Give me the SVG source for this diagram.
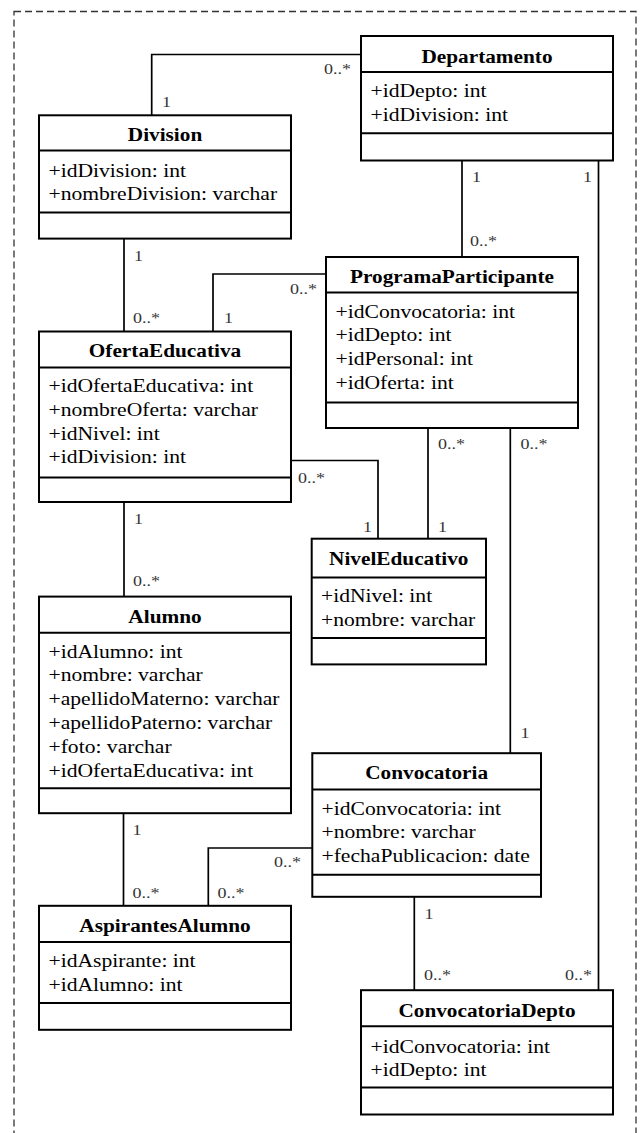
<svg xmlns="http://www.w3.org/2000/svg" width="644" height="1133" viewBox="0 0 644 1133">
<style>
.box{fill:#fff;stroke:#000;stroke-width:2}
.sep{stroke:#000;stroke-width:2}
.t{font-family:"Liberation Serif","Times New Roman",serif;font-size:19px;font-weight:bold;text-anchor:middle;fill:#000}
.a{font-family:"Liberation Serif","Times New Roman",serif;font-size:18px;fill:#000}
.c{fill:none;stroke:#000;stroke-width:1.7}
.m{font-family:"Liberation Serif","Times New Roman",serif;font-size:15px;fill:#333}
</style>
<rect x="14" y="11.5" width="622" height="1140" fill="none" stroke="#333" stroke-width="1.3" stroke-dasharray="7 4"/>
<g id="connectors">
<path class="c" d="M151.7,115.3 V54.5 H361"/>
<path class="c" d="M462,160.5 V257"/>
<path class="c" d="M598.5,160.5 V990"/>
<path class="c" d="M124,238.6 V331.5"/>
<path class="c" d="M213,331.5 V274 H326"/>
<path class="c" d="M291,460.5 H378 V538.7"/>
<path class="c" d="M428,428 V538.7"/>
<path class="c" d="M510.3,428 V753"/>
<path class="c" d="M124,502 V596.6"/>
<path class="c" d="M123.5,813 V906"/>
<path class="c" d="M312.3,848 H208.3 V906"/>
<path class="c" d="M414.3,897 V990"/>
<text class="m" transform="translate(162,107) scale(1.2,1)">1</text>
<text class="m" transform="translate(324,74) scale(1.2,1)">0..*</text>
<text class="m" transform="translate(472,182) scale(1.2,1)">1</text>
<text class="m" transform="translate(470,246) scale(1.2,1)">0..*</text>
<text class="m" transform="translate(583,182) scale(1.2,1)">1</text>
<text class="m" transform="translate(565,979.5) scale(1.2,1)">0..*</text>
<text class="m" transform="translate(134,261) scale(1.2,1)">1</text>
<text class="m" transform="translate(133,322.5) scale(1.2,1)">0..*</text>
<text class="m" transform="translate(224,322.5) scale(1.2,1)">1</text>
<text class="m" transform="translate(290,293.5) scale(1.2,1)">0..*</text>
<text class="m" transform="translate(298,483) scale(1.2,1)">0..*</text>
<text class="m" transform="translate(363,531.5) scale(1.2,1)">1</text>
<text class="m" transform="translate(438,448.5) scale(1.2,1)">0..*</text>
<text class="m" transform="translate(438,531.5) scale(1.2,1)">1</text>
<text class="m" transform="translate(520.5,448.5) scale(1.2,1)">0..*</text>
<text class="m" transform="translate(520.5,738) scale(1.2,1)">1</text>
<text class="m" transform="translate(134,524) scale(1.2,1)">1</text>
<text class="m" transform="translate(133,586) scale(1.2,1)">0..*</text>
<text class="m" transform="translate(132.5,834.5) scale(1.2,1)">1</text>
<text class="m" transform="translate(132.5,897.5) scale(1.2,1)">0..*</text>
<text class="m" transform="translate(274,867) scale(1.2,1)">0..*</text>
<text class="m" transform="translate(217.5,897.5) scale(1.2,1)">0..*</text>
<text class="m" transform="translate(424.5,919) scale(1.2,1)">1</text>
<text class="m" transform="translate(424,979.5) scale(1.2,1)">0..*</text>
</g>
<g id="Departamento">
<rect class="box" x="361" y="36" width="252" height="124.5"/>
<line class="sep" x1="361" y1="72" x2="613" y2="72"/>
<line class="sep" x1="361" y1="133.3" x2="613" y2="133.3"/>
<text class="t" transform="translate(487,63) scale(1.12,1)">Departamento</text>
<text class="a" transform="translate(370.5,97.3) scale(1.2,1)">+idDepto: int</text>
<text class="a" transform="translate(370.5,120.7) scale(1.2,1)">+idDivision: int</text>
</g>
<g id="Division">
<rect class="box" x="39" y="115.3" width="252" height="123.3"/>
<line class="sep" x1="39" y1="150.6" x2="291" y2="150.6"/>
<line class="sep" x1="39" y1="212.6" x2="291" y2="212.6"/>
<text class="t" transform="translate(165,140.5) scale(1.12,1)">Division</text>
<text class="a" transform="translate(48.5,176.6) scale(1.2,1)">+idDivision: int</text>
<text class="a" transform="translate(48.5,200) scale(1.2,1)">+nombreDivision: varchar</text>
</g>
<g id="ProgramaParticipante">
<rect class="box" x="326" y="257" width="252" height="171"/>
<line class="sep" x1="326" y1="292.6" x2="578" y2="292.6"/>
<line class="sep" x1="326" y1="402.5" x2="578" y2="402.5"/>
<text class="t" transform="translate(452,283) scale(1.12,1)">ProgramaParticipante</text>
<text class="a" transform="translate(335.5,317.5) scale(1.2,1)">+idConvocatoria: int</text>
<text class="a" transform="translate(335.5,341) scale(1.2,1)">+idDepto: int</text>
<text class="a" transform="translate(335.5,364.8) scale(1.2,1)">+idPersonal: int</text>
<text class="a" transform="translate(335.5,388.5) scale(1.2,1)">+idOferta: int</text>
</g>
<g id="OfertaEducativa">
<rect class="box" x="39" y="331.5" width="252" height="170.5"/>
<line class="sep" x1="39" y1="367.6" x2="291" y2="367.6"/>
<line class="sep" x1="39" y1="477.5" x2="291" y2="477.5"/>
<text class="t" transform="translate(165,356.8) scale(1.12,1)">OfertaEducativa</text>
<text class="a" transform="translate(48.5,392) scale(1.2,1)">+idOfertaEducativa: int</text>
<text class="a" transform="translate(48.5,415.5) scale(1.2,1)">+nombreOferta: varchar</text>
<text class="a" transform="translate(48.5,439.6) scale(1.2,1)">+idNivel: int</text>
<text class="a" transform="translate(48.5,463) scale(1.2,1)">+idDivision: int</text>
</g>
<g id="NivelEducativo">
<rect class="box" x="311.7" y="538.7" width="174.3" height="125.7"/>
<line class="sep" x1="311.7" y1="577.5" x2="486" y2="577.5"/>
<line class="sep" x1="311.7" y1="638" x2="486" y2="638"/>
<text class="t" transform="translate(398.8,565) scale(1.12,1)">NivelEducativo</text>
<text class="a" transform="translate(321,602) scale(1.2,1)">+idNivel: int</text>
<text class="a" transform="translate(321,625.5) scale(1.2,1)">+nombre: varchar</text>
</g>
<g id="Alumno">
<rect class="box" x="39" y="596.6" width="252" height="216.6"/>
<line class="sep" x1="39" y1="632.7" x2="291" y2="632.7"/>
<line class="sep" x1="39" y1="788.3" x2="291" y2="788.3"/>
<text class="t" transform="translate(165,623) scale(1.12,1)">Alumno</text>
<text class="a" transform="translate(48.5,658) scale(1.2,1)">+idAlumno: int</text>
<text class="a" transform="translate(48.5,681.3) scale(1.2,1)">+nombre: varchar</text>
<text class="a" transform="translate(48.5,704.7) scale(1.2,1)">+apellidoMaterno: varchar</text>
<text class="a" transform="translate(48.5,728.9) scale(1.2,1)">+apellidoPaterno: varchar</text>
<text class="a" transform="translate(48.5,752.7) scale(1.2,1)">+foto: varchar</text>
<text class="a" transform="translate(48.5,776.8) scale(1.2,1)">+idOfertaEducativa: int</text>
</g>
<g id="Convocatoria">
<rect class="box" x="312.3" y="753.2" width="228.7" height="143.6"/>
<line class="sep" x1="312.3" y1="789.4" x2="541" y2="789.4"/>
<line class="sep" x1="312.3" y1="874.8" x2="541" y2="874.8"/>
<text class="t" transform="translate(426.6,778.6) scale(1.12,1)">Convocatoria</text>
<text class="a" transform="translate(321.5,814.6) scale(1.2,1)">+idConvocatoria: int</text>
<text class="a" transform="translate(321.5,838) scale(1.2,1)">+nombre: varchar</text>
<text class="a" transform="translate(321.5,861.5) scale(1.2,1)">+fechaPublicacion: date</text>
</g>
<g id="AspirantesAlumno">
<rect class="box" x="39" y="905.8" width="252" height="124"/>
<line class="sep" x1="39" y1="941.9" x2="291" y2="941.9"/>
<line class="sep" x1="39" y1="1003" x2="291" y2="1003"/>
<text class="t" transform="translate(165,931.8) scale(1.12,1)">AspirantesAlumno</text>
<text class="a" transform="translate(48.5,966.7) scale(1.2,1)">+idAspirante: int</text>
<text class="a" transform="translate(48.5,990.5) scale(1.2,1)">+idAlumno: int</text>
</g>
<g id="ConvocatoriaDepto">
<rect class="box" x="361" y="990.2" width="252" height="124.3"/>
<line class="sep" x1="361" y1="1026.2" x2="613" y2="1026.2"/>
<line class="sep" x1="361" y1="1087.5" x2="613" y2="1087.5"/>
<text class="t" transform="translate(487,1016.5) scale(1.12,1)">ConvocatoriaDepto</text>
<text class="a" transform="translate(370.5,1052.5) scale(1.2,1)">+idConvocatoria: int</text>
<text class="a" transform="translate(370.5,1076) scale(1.2,1)">+idDepto: int</text>
</g>
</svg>
